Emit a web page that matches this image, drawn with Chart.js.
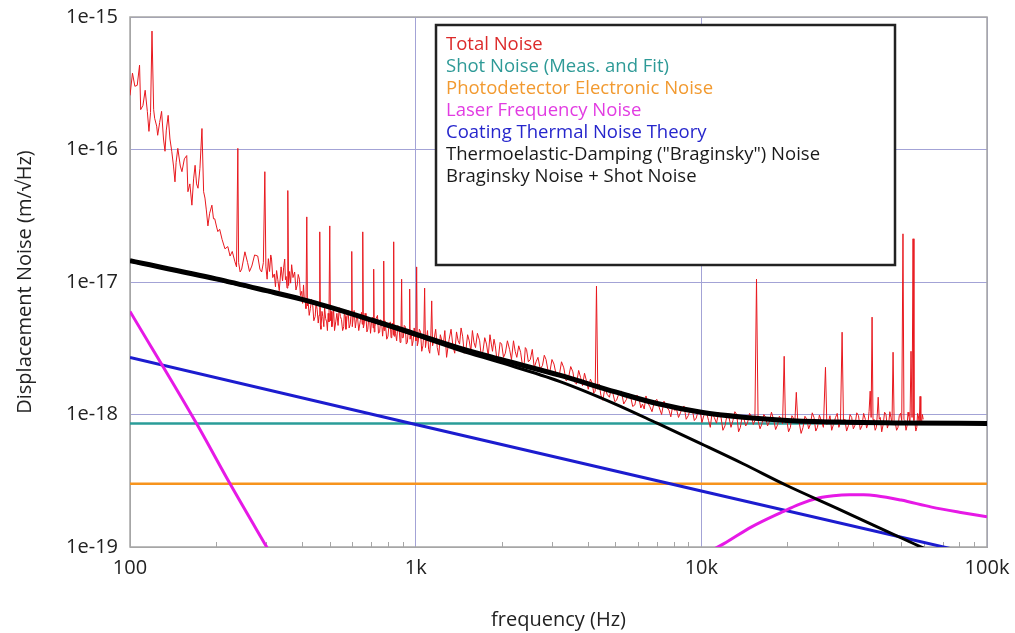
<!DOCTYPE html>
<html>
<head>
<meta charset="utf-8">
<script src="https://cdn.jsdelivr.net/npm/chart.js@4/dist/chart.umd.min.js"></script>
<style>
html, body { margin: 0; padding: 0; background: #fff; }
#wrap { width: 1015px; height: 633px; }
</style>
</head>
<body>
<div id="wrap"><canvas id="noiseChart" width="1015" height="633"></canvas></div>
<script>
// all noise values are in units of 1e-18 m/√Hz
const UNIT = 1e-18;

const seriesNames = [
    'Total Noise',
    'Shot Noise (Meas. and Fit)',
    'Photodetector Electronic Noise',
    'Laser Frequency Noise',
    'Coating Thermal Noise Theory',
    'Thermoelastic-Damping ("Braginsky") Noise',
    'Braginsky Noise + Shot Noise'
];
const lineColors = ['#e8181e', '#2a9c98', '#f7941d', '#e619e6', '#1c1ccf', '#000000', '#000000'];
const textColors = ['#dc2a2a', '#2e9a97', '#f29a30', '#e23ce2', '#2626cc', '#1a1a1a', '#1a1a1a'];

const xDecades = [100, 1000, 10000, 100000];
const xTickLabels = ['100', '1k', '10k', '100k'];
const yDecades = [1e-19, 1e-18, 1e-17, 1e-16, 1e-15];
const yTickLabels = ['1e-19', '1e-18', '1e-17', '1e-16', '1e-15'];

// [frequency Hz, noise]
const totalNoise = [
    [100,256],[102,377],[104,300],[106,305],[108,433],[109,200],[111,215],[113,280],[115,194],[116.5,137],
    [118,190],[119.4,783],[121,200],[122,172],[124,150],[125,128],[127,160],[129,194],[131,120],[132.6,97],
    [134,140],[136,181],[138,120],[140,97],[142,75],[143.7,57],[145,80],[147,102],[150,75],[152,68],
    [155,85],[158,90],[159.5,48],[162,55],[164.7,38],[167,60],[169,76],[171,55],[173,51],[175.7,72],
    [178.6,144],[181,48],[183,43],[185,35],[187.4,26.5],[190,33],[193.5,38],[196,30],[198,30],[201,26],
    [203,24],[206,25],[210,21],[213,19],[215,17.8],[220,18.5],[224,15.7],[228,17],[233,14.2],[236,13],
    [238.5,102],[240,14],[243,11.9],[246,12.5],[252.5,16.9],[258,14],[262,12],[267,13.2],[273,16],[280,15.7],
    [285,12.5],[289,11.9],[293,14],[296.5,68],[299,13],[302,10.5],[305,15],[308,12],[311,16],[313,14.9],
    [316,10.8],[320,11.5],[323,9.2],[326,12.2],[329,10.5],[333,8.6],[338,13],[342,10.2],[345,12.8],[348,14.9],
    [350,10.4],[352,11],[354.5,9.0],[356.8,49],[359,9.4],[362,12],[365,9.8],[368,13.5],[372,10.8],[377,11.9],
    [381,8.7],[385,9.5],[388,11.4],[392,10.5],[395,7.9],[399,8.5],[402,6.9],[405,9.5],[408,7.1],[410,7.5],
    [413,6.3],[415.8,31],[418,6.6],[420,7.2],[424,5.6],[428,6.3],[432,7.4],[436,6.8],[440,5.1],[445,5.5],
    [448,7.0],[452,6.2],[456,4.9],[459,5.6],[461.6,23.9],[464,4.7],[466,4.4],[470,6.0],[473,5.5],[477,4.6],
    [480,6.5],[484,5.3],[488,5.0],[491,4.3],[494,5.8],[497,5.0],[500.4,26.5],[503,5.1],[506,6.0],[509,4.6],
    [512,5.0],[516,6.3],[520,4.3],[525,5.0],[530,5.8],[535,4.7],[540,6.4],[545,5.5],[550,5.2],[555,4.3],
    [560,4.6],[563,6.0],[567,5.5],[570,4.4],[573,5.0],[577,5.9],[580,6.1],[585,4.5],[590,4.8],[594,5.7],
    [597.4,17],[600,4.6],[604,5.3],[609,6.1],[615,4.5],[620,5.2],[625,5.6],[632,4.3],[640,5.1],[646,5.9],
    [650,4.8],[652.8,23.9],[656,4.5],[660,4.8],[665,5.8],[670,5.5],[675,4.2],[680,4.4],[685,5.4],[690,5.3],
    [695,4.1],[700,4.9],[706,5.4],[710,4.5],[713,12.5],[716,4.2],[720,4.6],[727,5.3],[735,5.6],[741,4.1],
    [748,4.2],[754,5.2],[760,5.0],[766,3.9],[770,4.5],[773,14.4],[776,4.3],[780,5.1],[785,4.6],[792,3.7],
    [800,3.9],[807,4.8],[815,5.0],[820,3.8],[825,4.4],[831,4.9],[835,4.0],[837.7,20.1],[840,3.9],[845,4.6],
    [850,4.1],[858,3.6],[866,4.7],[875,4.5],[882,3.5],[888,4.1],[893,10.5],[897,3.8],[905,3.8],[912,4.7],
    [920,4.6],[927,3.4],[935,3.5],[943,4.4],[950,4.0],[952.8,8.85],[956,3.7],[965,4.3],[972,3.3],[980,3.6],
    [988,4.5],[995,4.1],[1002,3.6],[1008,13],[1013,3.3],[1020,3.5],[1030,4.4],[1040,4.2],[1050,3.0],[1060,3.3],
    [1068,4.1],[1075,9],[1082,3.2],[1090,3.6],[1100,4.3],[1110,3.1],[1120,2.9],[1130,3.9],[1138,7.2],[1146,3.3],
    [1160,3.7],[1175,4.4],[1190,3.2],[1205,2.8],[1220,4.0],[1235,3.6],[1250,3.4],[1265,4.3],[1283,2.7],[1297,3.2],
    [1310,3.7],[1330,4.4],[1350,3.3],[1370,2.9],[1390,4.2],[1408,3.6],[1425,3.4],[1442,4.5],[1460,3.9],[1480,2.9],
    [1500,3.1],[1520,4.0],[1540,3.6],[1560,3.0],[1580,4.3],[1600,3.5],[1620,3.2],[1645,4.1],[1675,3.6],[1695,2.8],
    [1720,3.0],[1745,3.8],[1770,3.4],[1795,2.75],[1820,4.0],[1840,3.4],[1858,3.0],[1880,3.7],[1900,3.3],[1925,2.6],
    [1950,2.75],[1975,3.5],[2000,3.4],[2030,2.7],[2060,2.9],[2095,3.6],[2132,3.1],[2165,2.6],[2200,3.6],[2230,3.0],
    [2260,2.7],[2295,3.3],[2330,2.95],[2365,2.35],[2400,2.45],[2420,3.2],[2444,3.1],[2480,2.5],[2520,2.6],[2560,3.1],
    [2600,2.25],[2640,2.5],[2680,2.7],[2730,2.2],[2780,2.35],[2820,2.8],[2860,2.6],[2905,2.15],[2950,2.1],[3000,2.6],
    [3050,2.4],[3110,1.95],[3186,2.0],[3240,2.5],[3300,2.25],[3360,1.8],[3420,1.85],[3490,2.3],[3550,2.1],[3600,1.75],
    [3656,1.7],[3720,2.15],[3780,1.9],[3840,1.65],[3900,2.05],[3960,1.8],[4020,1.55],[4090,1.85],[4156,1.7],[4200,1.45],
    [4250,1.5],[4295,9.3],[4340,1.55],[4390,1.7],[4450,1.4],[4520,1.28],[4600,1.6],[4680,1.42],[4768,1.35],[4830,1.55],
    [4900,1.45],[4980,1.25],[5050,1.28],[5150,1.45],[5250,1.5],[5350,1.2],[5468,1.3],[5560,1.45],[5650,1.38],[5750,1.15],
    [5850,1.18],[5950,1.4],[6050,1.33],[6140,1.12],[6222,1.2],[6310,1.1],[6400,1.38],[6500,1.22],[6600,1.15],[6720,1.05],
    [6850,1.25],[6990,1.3],[7130,1.12],[7260,1.0],[7400,1.26],[7550,1.14],[7700,1.08],[7820,0.96],[7950,1.18],[8070,1.07],
    [8185,1.1],[8320,0.95],[8450,1.03],[8570,1.12],[8700,1.16],[8850,0.92],[9000,0.98],[9150,1.1],[9306,1.08],[9450,0.9],
    [9600,0.94],[9750,1.07],[9900,1.06],[10050,0.87],[10200,0.98],[10400,1.06],[10600,0.9],[10750,0.8],[10900,1.03],[11100,0.95],
    [11300,0.86],[11500,1.04],[11700,0.98],[11900,0.76],[12100,0.82],[12300,0.99],[12500,0.95],[12700,0.8],[12900,0.9],[13100,1.05],
    [13300,1.0],[13500,0.74],[13700,0.8],[13900,0.97],[14100,0.93],[14300,0.82],[14500,0.86],[14750,1.02],[15000,0.96],[15200,0.84],
    [15400,0.9],[15600,10.5],[15800,0.9],[16050,0.78],[16300,0.85],[16550,1.0],[16800,0.95],[17050,0.82],[17300,0.88],[17600,1.04],
    [17900,0.92],[18200,0.77],[18500,0.84],[18750,0.97],[19000,0.93],[19250,0.85],[19500,2.75],[19700,0.86],[19900,0.92],[20200,0.74],
    [20500,0.8],[20750,0.98],[21000,0.94],[21250,0.88],[21500,1.47],[21750,0.9],[22000,0.87],[22350,0.72],[22700,0.8],[23050,0.97],
    [23400,0.92],[23750,0.78],[24100,0.85],[24450,1.03],[24800,0.95],[25150,0.75],[25500,0.8],[25900,0.99],[26300,0.9],[26750,0.8],
    [27200,2.27],[27500,0.84],[27800,0.86],[28200,0.98],[28600,0.76],[29000,0.84],[29500,0.95],[29900,1.02],[30300,0.8],[30700,0.88],
    [31100,4.18],[31450,0.88],[31800,0.92],[32250,0.75],[32700,0.82],[33150,1.0],[33600,0.95],[34050,0.78],[34500,0.83],[35000,1.03],
    [35500,0.98],[36000,0.77],[36500,0.82],[37000,1.02],[37500,0.92],[37900,0.79],[38300,0.85],[38650,1.05],[39000,1.5],[39300,0.95],
    [39600,5.43],[39900,0.92],[40200,0.88],[40600,0.76],[41000,0.8],[41300,1.0],[41600,1.35],[41950,0.92],[42300,0.95],[42800,0.74],
    [43300,0.84],[43800,1.04],[44300,1.0],[44800,0.79],[45300,0.86],[45700,1.05],[46100,0.95],[46500,0.85],[46900,2.95],[47300,0.9],
    [47700,0.88],[48250,0.76],[48800,0.8],[49300,0.98],[49800,1.02],[50300,0.9],[50800,23.1],[51200,0.92],[51600,0.9],[52050,0.76],
    [52500,0.82],[52900,1.04],[53300,0.97],[53750,0.85],[54200,3.0],[54650,0.95],[55100,21.2],[55500,0.9],[55900,0.88],[56350,0.75],
    [56800,0.8],[57150,1.02],[57500,0.98],[57900,0.84],[58300,1.37],[58650,0.9],[59000,0.86],[59400,1.0],[59800,0.92]
];
const shotNoise = [[100, 0.855], [100000, 0.855]];
const photodetectorNoise = [[100, 0.30], [100000, 0.30]];
const laserNoise = [
    [100,6.0],[171,0.855],[224,0.30],[301,0.10],[400,0.035],[2000,null],
    [10000,0.086],[12000,0.106],[15000,0.142],[19200,0.184],[22000,0.21],[25900,0.235],[29000,0.244],
    [33000,0.248],[37000,0.248],[41000,0.244],[50000,0.226],[64000,0.2],[80000,0.183],[100000,0.169]
];
const coatingNoise = [[100, 2.7], [1000, 0.84], [10000, 0.265], [100000, 0.084]];
const braginskyNoise = [
    [100,14.4],[200,10.5],[300,8.55],[400,7.35],[500,6.4],[700,5.1],[1000,3.95],[1425,3.05],[2000,2.45],
    [3186,1.78],[5000,1.2],[7000,0.86],[10000,0.6],[14000,0.425],[20000,0.29],[30000,0.195],[40000,0.146],
    [60000,0.098],[80000,0.074]
];
const braginskyPlusShot = [
    [100,14.45],[200,10.55],[300,8.6],[400,7.4],[500,6.46],[700,5.17],[1000,4.05],[1425,3.17],[2000,2.59],
    [3186,1.98],[5000,1.48],[7000,1.21],[10000,1.04],[14000,0.955],[20000,0.902],[30000,0.876],[50000,0.863],
    [100000,0.856]
];

const gridColor = '#a3a3d6';
const frameColor = '#a6a6a6';
const fontFamily = '"Open Sans", "DejaVu Sans", sans-serif';

function toXY(arr) {
    return arr.map(p => ({x: p[0], y: p[1] === null ? null : p[1] * UNIT}));
}

const frameAndMinorTicks = {
    id: 'frameAndMinorTicks',
    beforeDatasetsDraw(chart) {
        const {ctx, chartArea: a} = chart;
        const x = chart.scales.x;
        ctx.save();
        ctx.strokeStyle = frameColor;
        ctx.lineWidth = 1.5;
        ctx.strokeRect(a.left, a.top, a.right - a.left, a.bottom - a.top);
        ctx.lineWidth = 1;
        ctx.beginPath();
        for (let i = 0; i < xDecades.length - 1; i++) {
            for (let m = 2; m <= 9; m++) {
                const px = Math.round(x.getPixelForValue(xDecades[i] * m)) + 0.5;
                ctx.moveTo(px, a.bottom);
                ctx.lineTo(px, a.bottom - 5);
            }
        }
        ctx.stroke();
        ctx.restore();
    }
};

const legendBox = {
    id: 'legendBox',
    afterDatasetsDraw(chart) {
        const {ctx, chartArea: a} = chart;
        const left = a.left + 306, top = a.top + 8, w = 459, h = 240;
        ctx.save();
        ctx.fillStyle = '#fff';
        ctx.fillRect(left, top, w, h);
        ctx.strokeStyle = '#222';
        ctx.lineWidth = 2.5;
        ctx.strokeRect(left, top, w, h);
        ctx.font = '18.5px ' + fontFamily;
        ctx.textBaseline = 'middle';
        ctx.textAlign = 'left';
        seriesNames.forEach((name, i) => {
            ctx.fillStyle = textColors[i];
            ctx.fillText(name, left + 10, top + 20 + i * 22);
        });
        ctx.restore();
    }
};

const ctx = document.getElementById('noiseChart');

new Chart(ctx, {
    type: 'line',
    data: {
        datasets: [
            {label: seriesNames[0], data: toXY(totalNoise), borderColor: lineColors[0], borderWidth: 1, order: 2},
            {label: seriesNames[1], data: toXY(shotNoise), borderColor: lineColors[1], borderWidth: 2.5, order: 6},
            {label: seriesNames[2], data: toXY(photodetectorNoise), borderColor: lineColors[2], borderWidth: 2.5, order: 7},
            {label: seriesNames[3], data: toXY(laserNoise), borderColor: lineColors[3], borderWidth: 3,
                cubicInterpolationMode: 'monotone', spanGaps: false, order: 4},
            {label: seriesNames[4], data: toXY(coatingNoise), borderColor: lineColors[4], borderWidth: 3, order: 5},
            {label: seriesNames[5], data: toXY(braginskyNoise), borderColor: lineColors[5], borderWidth: 3,
                cubicInterpolationMode: 'monotone', order: 1},
            {label: seriesNames[6], data: toXY(braginskyPlusShot), borderColor: lineColors[6], borderWidth: 5,
                cubicInterpolationMode: 'monotone', order: 0}
        ]
    },
    options: {
        responsive: false,
        animation: false,
        layout: {padding: {top: 17, right: 28, left: 0, bottom: 0}},
        elements: {point: {radius: 0}, line: {tension: 0}},
        plugins: {legend: {display: false}, tooltip: {enabled: false}},
        scales: {
            x: {
                type: 'logarithmic',
                min: 100,
                max: 100000,
                afterBuildTicks: s => { s.ticks = xDecades.map(v => ({value: v})); },
                afterFit: s => { s.height = 86; s.paddingLeft = 0; s.paddingRight = 0; },
                ticks: {
                    autoSkip: false, maxRotation: 0, padding: 9, color: '#222',
                    font: {family: fontFamily, size: 20},
                    callback: (v, i) => xTickLabels[i]
                },
                grid: {color: gridColor, drawTicks: false},
                border: {color: frameColor},
                title: {
                    display: true, text: 'frequency (Hz)', color: '#222',
                    font: {family: fontFamily, size: 20}, padding: {top: 0, bottom: 1}
                }
            },
            y: {
                type: 'logarithmic',
                min: 1e-19,
                max: 1e-15,
                afterBuildTicks: s => { s.ticks = yDecades.map(v => ({value: v})); },
                afterFit: s => { s.width = 130; s.paddingTop = 0; s.paddingBottom = 0; },
                ticks: {
                    autoSkip: false, padding: 12, color: '#222',
                    font: {family: fontFamily, size: 20},
                    callback: (v, i) => yTickLabels[i]
                },
                grid: {color: gridColor, drawTicks: false},
                border: {color: frameColor},
                title: {
                    display: true, text: 'Displacement Noise (m/√Hz)', color: '#222',
                    font: {family: fontFamily, size: 20}, padding: {top: 13, bottom: 0}
                }
            }
        }
    },
    plugins: [frameAndMinorTicks, legendBox]
});
</script>
</body>
</html>
